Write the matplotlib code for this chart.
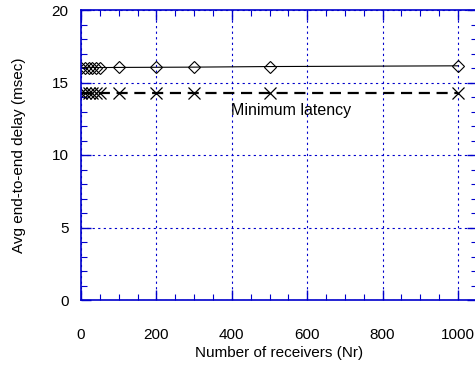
import matplotlib.pyplot as plt
import numpy as np
from matplotlib.ticker import MultipleLocator

plt.rcParams['font.family'] = ['Liberation Sans', 'DejaVu Sans']

# data
receivers = [1, 10, 20, 30, 40, 50, 100, 200, 300, 500, 1000]
avg_delay = [16.02, 16.02, 16.02, 16.03, 16.03, 16.03, 16.04, 16.05, 16.06, 16.10, 16.15]
min_latency = [14.25, 14.25, 14.25, 14.25, 14.25, 14.25, 14.25, 14.25, 14.25, 14.25, 14.25]

BLUE = '#0000cc'

fig = plt.figure(figsize=(4.75, 3.67), dpi=100)
x0, x1 = 0, 1050
px_per_unit = 377.0 / 1000
ax = fig.add_axes([81 / 475, 67 / 367, x1 * px_per_unit / 475, 290 / 367])

ax.plot(receivers, avg_delay, color='black', linewidth=0.8, marker='D',
        markersize=6, markerfacecolor='none', markeredgecolor='black',
        markeredgewidth=0.8)
ax.plot(receivers, min_latency, color='black', linewidth=1.6, linestyle=(0, (5, 3)),
        marker='x', markersize=9, markeredgewidth=0.9)

ax.text(397, 13.1, 'Minimum latency', fontsize=11.5, ha='left', va='center')

ax.set_xlim(x0, x1)
ax.set_ylim(0, 20)
ax.xaxis.set_major_locator(MultipleLocator(200))
ax.xaxis.set_minor_locator(MultipleLocator(50))
ax.yaxis.set_major_locator(MultipleLocator(5))
ax.yaxis.set_minor_locator(MultipleLocator(1))
ax.set_xticks([0, 200, 400, 600, 800, 1000])

ax.grid(True, which='major', color=BLUE, linestyle=(0, (2, 3)), linewidth=0.8)
for sp in ax.spines.values():
    sp.set_color(BLUE)
    sp.set_linewidth(1.2)

ax.tick_params(which='both', direction='in', top=True, right=True,
               color=BLUE, labelsize=11, labelcolor='black')
ax.tick_params(which='major', length=7, width=1.0)
ax.tick_params(which='minor', length=4, width=0.8)
ax.tick_params(axis='x', which='major', pad=20)
ax.tick_params(axis='y', which='major', pad=9)

ax.set_xlabel('Number of receivers (Nr)', fontsize=11, labelpad=3)
ax.set_ylabel('Avg end-to-end delay (msec)', fontsize=11, labelpad=18)

fig.savefig('out.png', dpi=100)
